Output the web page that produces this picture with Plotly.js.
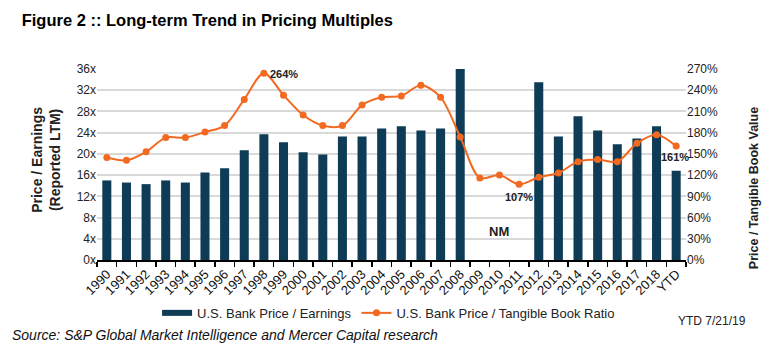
<!DOCTYPE html>
<html><head><meta charset="utf-8">
<script src="https://cdn.plot.ly/plotly-3.0.1.min.js"></script>
<style>html,body{margin:0;padding:0;background:#fff}#chart{width:774px;height:358px}</style>
</head><body><div id="chart"></div>
<script>
const years = ['1990','1991','1992','1993','1994','1995','1996','1997','1998','1999','2000','2001','2002','2003','2004','2005','2006','2007','2008','2009','2010','2011','2012','2013','2014','2015','2016','2017','2018','YTD'];
const peValues = [15.0,14.6,14.3,15.0,14.6,16.5,17.3,20.7,23.7,22.2,20.3,19.9,23.3,23.3,24.8,25.2,24.4,24.8,36.0,null,null,null,33.5,23.3,27.1,24.4,21.8,22.9,25.2,16.8];
const ptbvValues = [145,141,153,173,173,181,190,227,264,233,205,190,190,219,230,232,247,230,174,116,120,107,117,123,139,142,139,165,177,161];
const leftTicks = [0,4,8,12,16,20,24,28,32,36];
const rightTicks = [0,30,60,90,120,150,180,210,240,270];

const navy = '#0E3B55';
const orange = '#F26A21';
const font = 'Liberation Sans, Arial, sans-serif';
const idx = y => years.indexOf(y);

const traces = [
  {type:'bar', x:years, y:peValues, marker:{color:navy}, showlegend:false, yaxis:'y', name:'U.S. Bank Price / Earnings'},
  {type:'scatter', mode:'lines', x:[null], y:[null], line:{color:navy, width:6}, name:'U.S. Bank Price / Earnings', yaxis:'y'},
  {type:'scatter', mode:'lines+markers', x:years, y:ptbvValues, yaxis:'y2', line:{color:orange, width:2, shape:'spline', smoothing:0.9}, marker:{color:orange, size:7}, name:'U.S. Bank Price / Tangible Book Ratio'}
];

const layout = {
  width:774, height:358,
  margin:{l:97, r:88, t:69, b:98},
  paper_bgcolor:'#fff', plot_bgcolor:'#fff',
  font:{family:font, color:'#222', size:12},
  title:{text:'<b>Figure 2 :: Long-term Trend in Pricing Multiples</b>', xref:'container', x:0.028, xanchor:'left', yref:'container', y:0.944, yanchor:'middle', font:{size:16.5, color:'#000', family:font}},
  bargap:0.54,
  xaxis:{type:'category', categoryorder:'array', categoryarray:years, range:[-0.5,29.5], tickangle:-45, tickfont:{size:13, color:'#111'}, showline:true, linecolor:'#000', linewidth:1.5, ticks:'outside', tickson:'boundaries', ticklen:5, tickcolor:'#000', tickwidth:1.5, showgrid:false, zeroline:false, fixedrange:true},
  yaxis:{range:[0,36], tickvals:leftTicks, ticktext:leftTicks.map(v=>v+'x'), showgrid:true, gridcolor:'#D9D9D9', gridwidth:2, zeroline:false, showline:false, ticks:'', tickfont:{size:12, color:'#222'}},
  yaxis2:{range:[0,270], overlaying:'y', side:'right', tickvals:rightTicks, ticktext:rightTicks.map(v=>v+'%'), showgrid:false, zeroline:false, showline:false, ticks:'', tickfont:{size:12, color:'#222'}},
  legend:{orientation:'h', x:0.102, xanchor:'left', y:-0.277, yanchor:'middle', font:{size:13, color:'#222'}, itemwidth:30, tracegroupgap:0, bgcolor:'rgba(0,0,0,0)'},
  annotations:[
    {x:-0.119, y:0.524, xref:'paper', yref:'paper', textangle:-90, text:'<b>Price / Earnings<br>(Reported LTM)</b>', showarrow:false, font:{size:14, color:'#222'}},
    {x:1.131, y:0.377, xref:'paper', yref:'paper', textangle:-90, text:'<b>Price / Tangible Book Value</b>', showarrow:false, font:{size:12.5, color:'#222'}},
    {x:idx('1998'), y:264, xref:'x', yref:'y2', text:'<b>264%</b>', showarrow:false, xanchor:'left', xshift:4, yshift:-1, font:{size:11, color:'#222'}},
    {x:idx('2011'), y:107, xref:'x', yref:'y2', text:'<b>107%</b>', showarrow:false, yanchor:'top', yshift:-5, font:{size:11, color:'#222'}},
    {x:idx('YTD'), y:161, xref:'x', yref:'y2', text:'<b>161%</b>', showarrow:false, yanchor:'top', yshift:-3, xshift:-1, font:{size:11, color:'#222'}},
    {x:idx('2010'), y:5.3, xref:'x', yref:'y', text:'<b>NM</b>', showarrow:false, font:{size:13, color:'#222'}},
    {x:-0.148, y:-0.393, xref:'paper', yref:'paper', xanchor:'left', yanchor:'middle', text:'<i>Source: S&P Global Market Intelligence and Mercer Capital research</i>', showarrow:false, font:{size:14, color:'#111'}},
    {x:1.106, y:-0.319, xref:'paper', yref:'paper', xanchor:'right', yanchor:'middle', text:'YTD 7/21/19', showarrow:false, font:{size:12, color:'#222'}}
  ]
};
Plotly.newPlot('chart', traces, layout, {displayModeBar:false, staticPlot:true});
</script></body></html>
